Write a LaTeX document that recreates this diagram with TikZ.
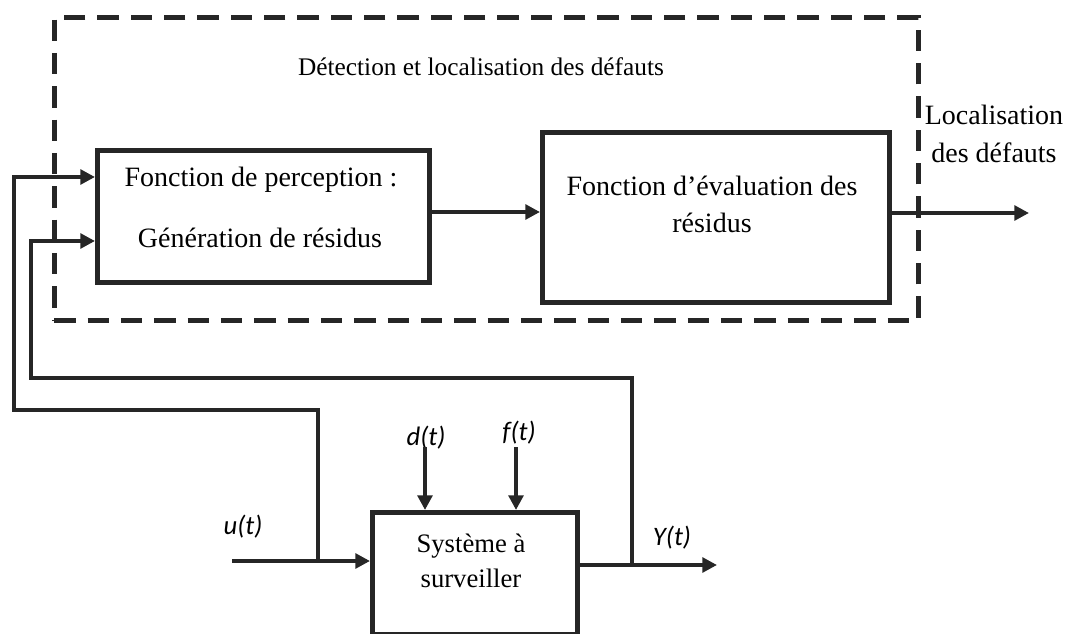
\documentclass[tikz,border=0pt]{standalone}
\usepackage{fontspec}
\setmainfont{Liberation Serif}
\newfontfamily\lblfont{Carlito}
\usetikzlibrary{arrows.meta}
\definecolor{ink}{HTML}{262626}
\begin{document}
\begin{tikzpicture}[x=0.75pt,y=-0.75pt,
  blk/.style={draw=ink,line width=3.4pt,inner sep=0pt},
  wire/.style={draw=ink,line width=3.4pt},
  arr/.style={wire,-{Triangle[length=11pt,width=11pt]}},
  txt/.style={font=\fontsize{21}{24}\selectfont,text=black,inner sep=0pt},
  lbl/.style={font=\lblfont\itshape\fontsize{20}{22}\selectfont,text=black,inner sep=0pt}]
\useasboundingbox (0,0) rectangle (1070,634);
% dashed frame
\node[draw=ink,line width=3.4pt,dash pattern=on 16pt off 9pt,minimum width=864*0.75pt,minimum height=303*0.75pt,anchor=north west,inner sep=0pt] (frame) at (52,15) {};
\node[txt,font=\fontsize{19}{22}\selectfont] (title) at (481,67) {Détection et localisation des défauts};
% blocks
\node[blk,minimum width=332*0.75pt,minimum height=132*0.75pt,anchor=north west] (gen) at (95,148) {};
\node[txt] (g1) at (261,180) {Fonction de perception :};
\node[txt] (g2) at (260,238) {Génération de résidus};
\node[blk,minimum width=347*0.75pt,minimum height=170*0.75pt,anchor=north west] (eval) at (540,130) {};
\node[txt] (e1) at (712,186) {Fonction d’évaluation des};
\node[txt] (e2) at (712,223) {résidus};
\node[blk,minimum width=205*0.75pt,minimum height=122*0.75pt,anchor=north west] (sys) at (370,510) {};
\node[txt,font=\fontsize{20}{22}\selectfont] (s1) at (471,546) {Système à};
\node[txt,font=\fontsize{20}{22}\selectfont] (s2) at (471,578) {surveiller};
\node[txt,align=center] (loc) at (994,134) {Localisation\\[4pt]des défauts};
% labels
\node[lbl] (d) at (426,438) {d(t)};
\node[lbl] (f) at (519,433) {f(t)};
\node[lbl] (u) at (243,527) {u(t)};
\node[lbl] (y) at (672,538) {Y(t)};
% coordinates
\coordinate (uin) at (232,561);
\coordinate (uj) at (318,561);
\coordinate (yout) at (717,565);
\coordinate (yj) at (632,565);
\coordinate (outend) at (1029,213);
% connectors
\draw[arr] (gen.east |- 0,212) -- (eval.west |- 0,212);
\draw[arr] (eval.east |- 0,213) -- (outend);
\draw[arr] (uin) -- (sys.west |- uin);
\draw[arr] (sys.east |- yout) -- (yout);
\draw[arr] (425,447) -- (425,510);
\draw[arr] (516,447) -- (516,510);
\draw[arr] (uj) -- (318,410) -- (14,410) -- (14,177) -- (gen.west |- 0,177);
\draw[arr] (yj) -- (632,378) -- (31,378) -- (31,241) -- (gen.west |- 0,241);
\end{tikzpicture}
\end{document}
